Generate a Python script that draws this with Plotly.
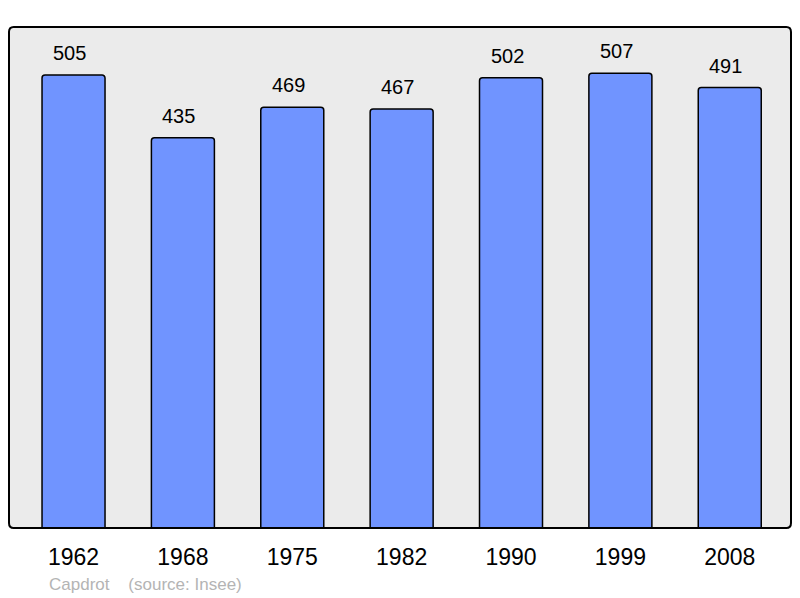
import plotly.graph_objects as go

years = ["1962", "1968", "1975", "1982", "1990", "1999", "2008"]
population = [505, 435, 469, 467, 502, 507, 491]
commune = "Capdrot"
source = "(source: Insee)"

FONT = "Liberation Sans, Arial, sans-serif"

fig = go.Figure()
fig.add_trace(go.Bar(
    x=years, y=population,
    width=0.576,
    marker=dict(color="#7094ff", line=dict(color="#000000", width=1.5), cornerradius=3),
    hoverinfo="skip",
))

for i, v in enumerate(population):
    fig.add_annotation(x=i, y=v, xref="x", yref="y", text=str(v), showarrow=False,
                       yanchor="bottom", yshift=9, xshift=-4,
                       font=dict(family=FONT, size=20, color="#000"))

# rounded frame around plot area
fig.add_shape(type="path", xref="paper", yref="paper",
              path="M 0.006,0 L 0.994,0 Q 1,0 1,0.01 L 1,0.99 Q 1,1 0.994,1 L 0.006,1 Q 0,1 0,0.99 L 0,0.01 Q 0,0 0.006,0 Z",
              line=dict(color="#000", width=2), fillcolor="rgba(0,0,0,0)", layer="above")

fig.add_annotation(xref="paper", yref="paper", x=0, y=0, xanchor="left", yanchor="middle",
                   xshift=38, yshift=-56, showarrow=False,
                   text=commune + "&nbsp;&nbsp;&nbsp;&nbsp;" + source,
                   font=dict(family=FONT, size=17, color="#b4b4b4"))

fig.update_layout(
    width=800, height=598,
    margin=dict(l=9, r=9, t=27, b=70),
    paper_bgcolor="#ffffff",
    plot_bgcolor="#ebebeb",
    showlegend=False,
    xaxis=dict(type="category", range=[-0.59, 6.56], showgrid=False, zeroline=False, showline=False,
               ticks="", ticklabelstandoff=13,
               tickfont=dict(family=FONT, size=23, color="#000")),
    yaxis=dict(range=[0, 558.5], showgrid=False, zeroline=False, showticklabels=False, showline=False),
)

fig.write_html("out.html", config={"displayModeBar": False},
               post_script="document.body.style.margin='0';document.body.style.padding='0';")
